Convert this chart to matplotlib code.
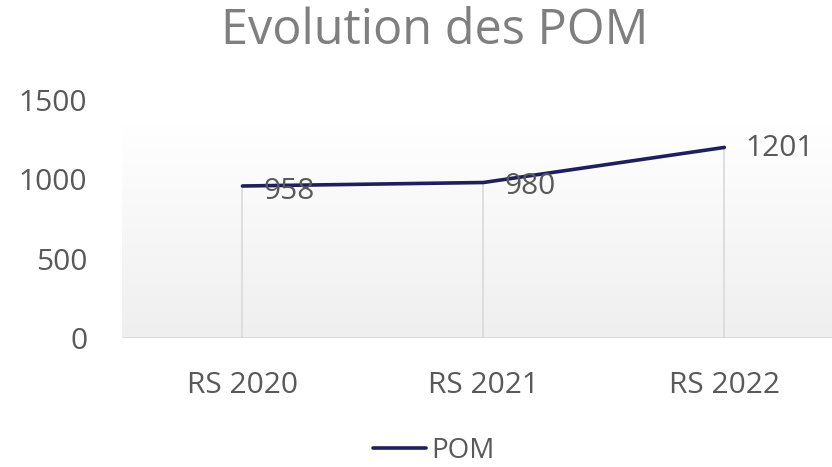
import matplotlib
matplotlib.use("Agg")
import matplotlib.pyplot as plt
import numpy as np

categories = ["RS 2020", "RS 2021", "RS 2022"]
pom_values = [958, 980, 1201]
y_ticks = [0, 500, 1000, 1500]

plt.rcParams['font.family'] = ['Open Sans', 'DejaVu Sans']

fig = plt.figure(figsize=(8.32, 4.67), dpi=100)
ax = fig.add_axes([122 / 832, 1 - 338 / 467, 1 - 122 / 832, (338 - 100) / 467])

x = np.arange(len(categories))

# gradient background of the plot area (white on top, light grey at bottom)
grad = np.linspace(1.0, 0.0, 256).reshape(-1, 1)
ax.imshow(grad, extent=[0, 1, 0, 0.9], transform=ax.transAxes, aspect='auto',
          cmap=matplotlib.colors.LinearSegmentedColormap.from_list('g', ['#efefef', '#ffffff']),
          zorder=0)

# drop lines
ax.vlines(x, 0, pom_values, color='#d9d9d9', lw=1.2, zorder=1)
ax.axhline(0, color='#d9d9d9', lw=2, zorder=1)

ax.plot(x, pom_values, color='#1f1f5c', lw=2.6, solid_capstyle='round', zorder=3, label='POM')

offsets = [(15, -4), (15, -3), (15, -1)]
for xi, v, off in zip(x, pom_values, offsets):
    ax.annotate(str(v), (xi, v), xytext=off, textcoords='offset points',
                ha='left', va='center', fontsize=21.5, color='#595959', zorder=4)

ax.set_xlim(-0.5, 2.447)
ax.set_ylim(0, 1500)
ax.set_yticks(y_ticks)
ax.set_yticklabels([str(t) for t in y_ticks])
ax.set_xticks(x)
ax.set_xticklabels(categories)
ax.tick_params(axis='both', length=0, labelsize=21.5, labelcolor='#595959')
ax.tick_params(axis='x', pad=24)
ax.tick_params(axis='y', pad=25)
for s in ax.spines.values():
    s.set_visible(False)

fig.text(435 / 832, 1 - 31 / 467, "Evolution des POM", ha='center', va='center',
         fontsize=35, color='#7f7f7f')

fig.legend(loc='center', bbox_to_anchor=(434 / 832, 1 - 451 / 467), frameon=False,
           fontsize=20, labelcolor='#595959', handlelength=1.9, handletextpad=0.2,
           borderpad=0.1)

fig.savefig("out.png", dpi=100)
